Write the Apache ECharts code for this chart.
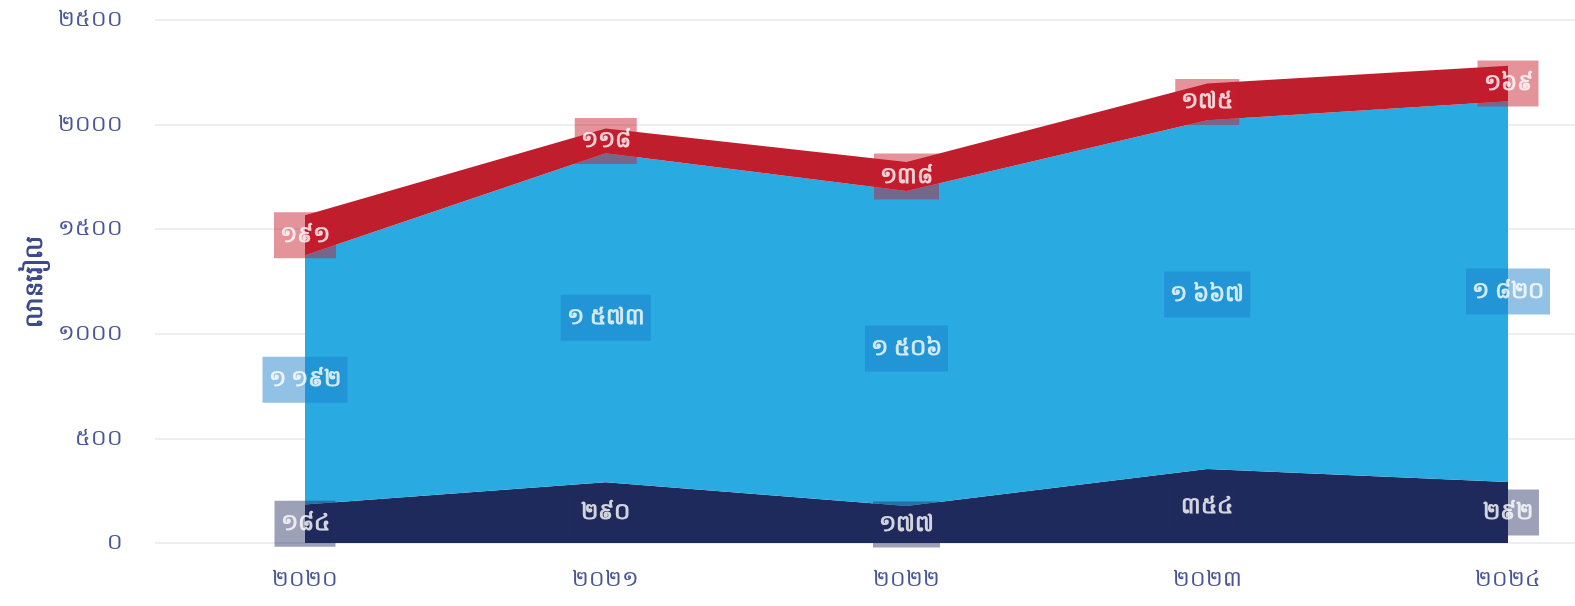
<!DOCTYPE html>
<html><head><meta charset="utf-8">
<script src="https://cdn.jsdelivr.net/npm/echarts@6/dist/echarts.min.js"></script>
<style>html,body{margin:0;padding:0;background:#fff}#c{width:1575px;height:606px}</style>
</head><body><div id="c"></div>
<script>
const years = ['២០២០','២០២១','២០២២','២០២៣','២០២៤'];
const bottomVals = [184, 290, 177, 354, 292];
const middleVals = [1192, 1573, 1506, 1667, 1820];
const topVals = [191, 118, 138, 175, 169];
const yTicks = [0, 500, 1000, 1500, 2000, 2500];
const yName = 'លានរៀល';

const KD = '០១២៣៤៥៦៧៨៩';
function kh(n, sep) {
  let s = String(Math.round(n));
  if (sep && s.length > 3) s = s.slice(0, s.length - 3) + ' ' + s.slice(s.length - 3);
  return s.replace(/[0-9]/g, d => KD[+d]);
}
const FONT = "'Noto Sans', 'DejaVu Sans', sans-serif";
const C_NAVY = '#1f2a5c', C_BLUE = '#29abe2', C_RED = '#bf1e2d';

function centers(base, vals) {
  return vals.map((v, i) => [i, base[i] + v / 2, v]);
}
const base0 = bottomVals.map(() => 0);
const base1 = bottomVals.slice();
const base2 = bottomVals.map((v, i) => v + middleVals[i]);

function labelSeries(data, bg, sep) {
  return {
    type: 'scatter', xAxisIndex: 1, yAxisIndex: 1, z: 10,
    symbolSize: 1, itemStyle: { color: 'rgba(0,0,0,0)' },
    data: data,
    label: {
      show: true, position: 'inside',
      formatter: p => kh(p.value[2], sep),
      color: '#fff', fontSize: 23, fontWeight: 'bold', fontFamily: FONT,
      backgroundColor: bg, padding: [10, 6, 10, 6], lineHeight: 26
    },
    emphasis: { disabled: true }, silent: true
  };
}
function areaSeries(vals, color) {
  return {
    type: 'line', xAxisIndex: 1, yAxisIndex: 1, stack: 'total',
    data: vals, symbol: 'none', lineStyle: { width: 0 },
    areaStyle: { color: color, opacity: 1 }, silent: true
  };
}

const chart = echarts.init(document.getElementById('c'), null, { renderer: 'canvas' });
chart.setOption({
  animation: false,
  backgroundColor: '#fff',
  grid: [
    { left: 155, right: 0, top: 20, bottom: 63 },
    { left: 305, right: 67, top: 20, bottom: 63 }
  ],
  xAxis: [
    { gridIndex: 0, type: 'value', show: false, min: 0, max: 1 },
    { gridIndex: 1, type: 'category', data: years, boundaryGap: false,
      axisLine: { show: false }, axisTick: { show: false },
      axisLabel: { color: '#4a5694', fontSize: 22, fontFamily: FONT, margin: 26 } }
  ],
  yAxis: [
    { gridIndex: 0, type: 'value', min: 0, max: 2500, interval: 500,
      name: yName, nameLocation: 'middle', nameRotate: 90, nameGap: 108,
      nameTextStyle: { color: '#3b4a8c', fontSize: 24, fontWeight: 'bold', fontFamily: FONT },
      axisLine: { show: false }, axisTick: { show: false },
      splitLine: { lineStyle: { color: '#e6e8ee', width: 1.5 } },
      axisLabel: { color: '#4a5694', fontSize: 22, fontFamily: FONT, margin: 32,
        formatter: v => yTicks.indexOf(v) >= 0 ? kh(v) : '' } },
    { gridIndex: 1, type: 'value', min: 0, max: 2500, interval: 500, show: false }
  ],
  series: [
    areaSeries(bottomVals, C_NAVY),
    areaSeries(middleVals, C_BLUE),
    areaSeries(topVals, C_RED),
    labelSeries(centers(base0, bottomVals), 'rgba(31,42,92,0.55)', false),
    labelSeries(centers(base1, middleVals), 'rgba(25,125,200,0.6)', true),
    labelSeries(centers(base2, topVals), 'rgba(200,30,45,0.6)', false)
  ]
});
</script></body></html>
